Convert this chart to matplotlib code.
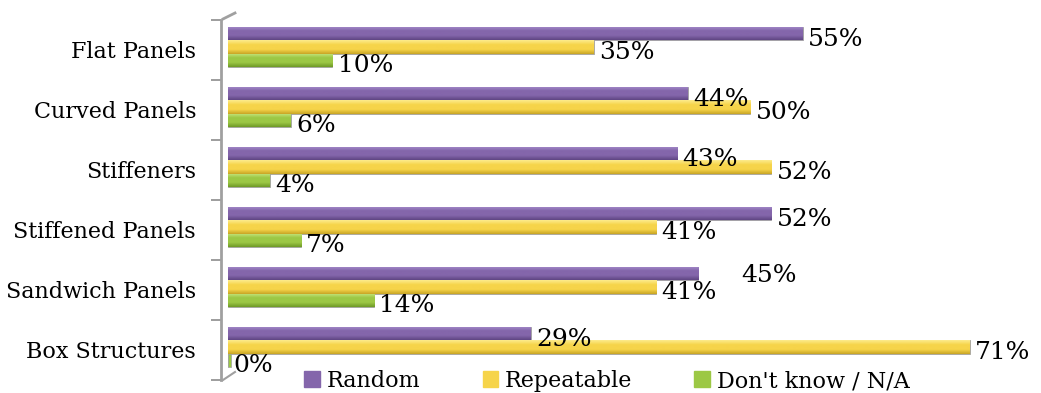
import numpy as np
import matplotlib
matplotlib.use('Agg')
import matplotlib.pyplot as plt
from matplotlib.colors import LinearSegmentedColormap
from matplotlib.lines import Line2D

#%% Data
categories = ['Flat Panels', 'Curved Panels', 'Stiffeners',
              'Stiffened Panels', 'Sandwich Panels', 'Box Structures']
random_pct = [55, 44, 43, 52, 45, 29]
repeatable_pct = [35, 50, 52, 41, 41, 71]
dont_know_pct = [10, 6, 4, 7, 14, 0]
series_names = ['Random', 'Repeatable', "Don't know / N/A"]

#%% Style
plt.rcParams['font.family'] = ['DejaVu Serif']
FS = 16
FS_VAL = 18
# (light, mid, dark) shades for the cylinder look
shades = [('#a68ccb', '#8466ab', '#5f4683'),
          ('#fdec8c', '#f6d44a', '#c9a525'),
          ('#c7e67f', '#9cc845', '#6f9a27')]
# (series, category) -> extra label offset, to keep close labels apart
label_nudge = {(0, 4): (3.6, -0.06)}

fig = plt.figure(figsize=(10.41, 3.93), dpi=100)
ax = fig.add_axes([228/1041, 13/393, 772/1041, 360/393])

h = 0.217
shift = -0.05
ypos = np.arange(len(categories))
grad = np.linspace(0, 1, 64).reshape(-1, 1)

for k, vals in enumerate([random_pct, repeatable_pct, dont_know_pct]):
    light, mid, dark = shades[k]
    cmap = LinearSegmentedColormap.from_list('c%d' % k, [light, mid, mid, dark])
    yy = ypos + (k - 1) * h + shift
    bars = ax.barh(yy, vals, height=h, color=mid, edgecolor='#a0a0a0',
                   linewidth=0.6, zorder=2)
    for i, (b, v, y) in enumerate(zip(bars, vals, yy)):
        if v > 0:
            im = ax.imshow(grad, cmap=cmap, aspect='auto', zorder=2.5,
                           extent=[0, v, y + h/2, y - h/2])
            im.set_clip_path(b)
        else:
            # empty value still shows a thin sliver
            ax.barh(y, 0.25, height=h, color=mid, edgecolor='#a0a0a0',
                    linewidth=0.5, zorder=2)
        dx, dy = label_nudge.get((k, i), (0, 0))
        ax.text(v + 0.5 + dx, y + 0.09 + dy, '%d%%' % v, fontsize=FS_VAL,
                va='center', ha='left', zorder=4)

ax.set_xlim(0, 73.9)
ax.set_ylim(5.5, -0.5)
ax.set_xticks([])
ax.set_yticks(ypos)
ax.set_yticklabels(categories)
ax.set_yticks(np.arange(-0.5, 6, 1), minor=True)
ax.tick_params(axis='y', which='major', length=0, pad=18, labelsize=FS)
ax.tick_params(axis='y', which='minor', length=7, color='#8c8c8c', width=1.2)
for s in ['top', 'right', 'bottom']:
    ax.spines[s].set_visible(False)
ax.spines['left'].set_position(('outward', 5))
ax.spines['left'].set_color('#a0a0a0')
ax.spines['left'].set_linewidth(2)

# wall depth edges
fig.add_artist(Line2D([223/1041, 235/1041], [1 - 19/393, 1 - 13/393],
                      color='#a0a0a0', lw=2))
fig.add_artist(Line2D([223/1041, 235/1041], [1 - 380/393, 1 - 372/393],
                      color='#a0a0a0', lw=1.5))

handles = [plt.Rectangle((0, 0), 1, 1, color=shades[k][1]) for k in range(3)]
fig.legend(handles, series_names, loc='center', ncol=3, frameon=False,
           fontsize=FS, bbox_to_anchor=(0.583, 1 - 381/393),
           handlelength=0.7, handleheight=0.7, handletextpad=0.3,
           columnspacing=2.8, borderpad=0)

plt.savefig('out.png', dpi=100)
